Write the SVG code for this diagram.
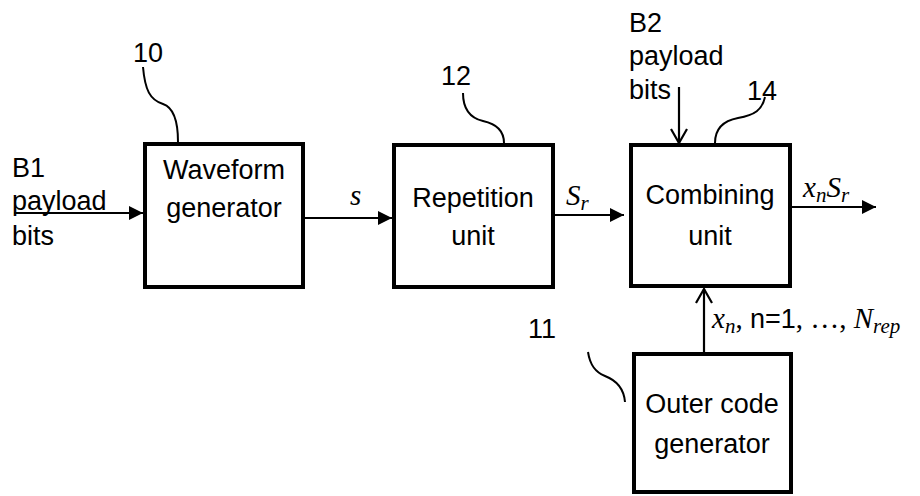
<svg xmlns="http://www.w3.org/2000/svg" width="920" height="496" viewBox="0 0 920 496">
<style>
.box{fill:#fff;stroke:#000;stroke-width:4}
.t{font-family:"Liberation Sans",Arial,sans-serif;font-size:27px;fill:#000}
.c{text-anchor:middle}
.m{font-family:"Liberation Serif","Times New Roman",serif;font-style:italic;font-size:29px;fill:#000}
.sub{font-size:21px}
.ln{fill:none;stroke:#000;stroke-width:2.2}
.ld{fill:none;stroke:#000;stroke-width:2}
</style>
<defs>
<marker id="fa" viewBox="0 0 14 14" refX="14" refY="7" markerWidth="14" markerHeight="14" markerUnits="userSpaceOnUse" orient="auto">
<path d="M0,0 L14,7 L0,14 Z" fill="#000"/>
</marker>
<marker id="oa" viewBox="0 0 16 18" refX="15" refY="9" markerWidth="16" markerHeight="18" markerUnits="userSpaceOnUse" orient="auto">
<path d="M1,1 L15,9 L1,17" fill="none" stroke="#000" stroke-width="2.2"/>
</marker>
</defs>
<g id="waveform-generator">
<rect class="box" x="145" y="144" width="158" height="143"/>
<text class="t c" x="224" y="179">Waveform</text>
<text class="t c" x="224" y="217">generator</text>
</g>
<g id="repetition-unit">
<rect class="box" x="394" y="145" width="159" height="142"/>
<text class="t c" x="473" y="207">Repetition</text>
<text class="t c" x="473" y="245">unit</text>
</g>
<g id="combining-unit">
<rect class="box" x="631" y="145" width="159" height="141"/>
<text class="t c" x="710" y="204">Combining</text>
<text class="t c" x="710" y="245">unit</text>
</g>
<g id="outer-code-generator">
<rect class="box" x="634" y="354" width="157" height="138"/>
<text class="t c" x="712" y="413">Outer code</text>
<text class="t c" x="712" y="453">generator</text>
</g>
<g id="labels">
<text class="t" x="12" y="177">B1</text>
<text class="t" x="12" y="210">payload</text>
<text class="t" x="12" y="245">bits</text>
<text class="t" x="629" y="32">B2</text>
<text class="t" x="629" y="65">payload</text>
<text class="t" x="629" y="99">bits</text>
<text class="t" x="133" y="62">10</text>
<text class="t" x="441" y="85">12</text>
<text class="t" x="747" y="100">14</text>
<text class="t" x="528" y="338">11</text>
<text class="m" x="350" y="205">s</text>
<text class="m" x="566" y="205">S<tspan class="sub" dy="5">r</tspan></text>
<text class="m" x="803" y="197">x<tspan class="sub" dy="5">n</tspan><tspan dy="-5">S</tspan><tspan class="sub" dy="5">r</tspan></text>
<text class="m" x="712" y="328">x<tspan class="sub" dy="5">n</tspan><tspan dy="-5" font-style="normal">, </tspan><tspan style="font-family:'Liberation Sans',Arial,sans-serif;font-style:normal;font-size:27px">n=1</tspan><tspan font-style="normal">, …, </tspan>N<tspan class="sub" dy="5">rep</tspan></text>
</g>
<g id="leaders">
<path class="ld" d="M143,67 C145,90 150,100 163,104 C175,108 178,125 178,142"/>
<path class="ld" d="M463,93 C463,108 470,118 483,121 C497,124 504,132 504,143"/>
<path class="ld" d="M715,143 C715,130 722,121 738,118 C755,115 762,110 765,97"/>
<path class="ld" d="M588,352 C590,365 595,372 605,376 C618,381 624,390 625,402"/>
</g>
<g id="connectors">
<line class="ln" x1="14" y1="213" x2="143" y2="213" marker-end="url(#fa)"/>
<line class="ln" x1="305" y1="218" x2="392" y2="218" marker-end="url(#fa)"/>
<line class="ln" x1="555" y1="215" x2="624" y2="215" marker-end="url(#fa)"/>
<line class="ln" x1="792" y1="207" x2="876" y2="207" marker-end="url(#fa)"/>
<line class="ln" x1="679" y1="87" x2="679" y2="143" marker-end="url(#oa)"/>
<line class="ln" x1="704" y1="352" x2="704" y2="289" marker-end="url(#oa)"/>
</g>
</svg>
